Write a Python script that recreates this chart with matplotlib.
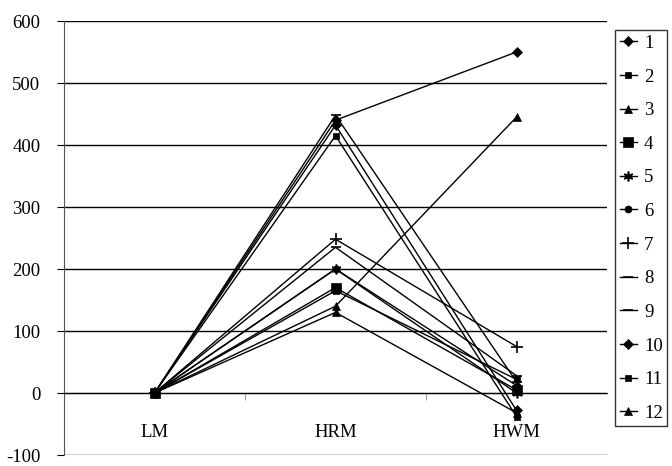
import matplotlib
matplotlib.use('Agg')
import matplotlib.pyplot as plt

categories = ['LM', 'HRM', 'HWM']
series_names = ['1', '2', '3', '4', '5', '6', '7', '8', '9', '10', '11', '12']
values = [
    [0, 432, -28],   # 1
    [0, 165, 22],    # 2
    [0, 140, 445],   # 3
    [0, 170, 5],     # 4
    [0, 200, 0],     # 5
    [0, 200, 12],    # 6
    [0, 248, 75],    # 7
    [0, 235, 28],    # 8
    [0, 448, 18],    # 9
    [0, 440, 550],   # 10
    [0, 415, -38],   # 11
    [0, 130, -32],   # 12
]
yticks = [-100, 0, 100, 200, 300, 400, 500, 600]

markers = ['D', 's', '^', 's', (6, 2, 0), 'o', '+', '_', '_', 'D', 's', '^']
msizes = [5, 4.5, 6, 7, 7, 5, 9, 7, 7, 5, 4.5, 6]

plt.rcParams['font.family'] = ['Liberation Serif', 'DejaVu Serif']

fig = plt.figure(figsize=(6.72, 4.66), dpi=100)
ax = fig.add_axes([64 / 672, 11 / 466, (607 - 64) / 672, (455 - 21) / 466])

x = list(range(len(categories)))
for name, vals, m, ms in zip(series_names, values, markers, msizes):
    ax.plot(x, vals, color='black', lw=1, marker=m, markersize=ms,
            markeredgewidth=1.2 if m in ('+', '_', (6, 2, 0)) else 0.5,
            markerfacecolor='black', markeredgecolor='black', label=name)

ax.set_xlim(-0.5, 2.5)
ax.set_ylim(-100, 600)
ax.set_yticks(yticks)
ax.set_yticklabels([str(v) for v in yticks], fontsize=13.5)
ax.grid(axis='y', color='black', lw=1)
ax.set_axisbelow(True)

ax.spines['top'].set_visible(False)
ax.spines['right'].set_visible(False)
ax.spines['bottom'].set_position(('data', 0))
ax.spines['left'].set_color('#555555')
ax.tick_params(axis='y', length=5, pad=12, color='black')

ax.set_xticks(x)
ax.set_xticklabels(categories, fontsize=13.5)
ax.set_xticks([0.5, 1.5], minor=True)
ax.tick_params(axis='x', which='major', length=0, pad=22)
ax.tick_params(axis='x', which='minor', length=5, color='#888888')

leg = ax.legend(loc='upper left', bbox_to_anchor=(1.0147, 0.979), fontsize=13.5,
                frameon=True, fancybox=False, edgecolor='black',
                handlelength=0.9, handletextpad=0.4, labelspacing=0.88,
                borderpad=0.25, borderaxespad=0)
leg.get_frame().set_linewidth(1)

fig.savefig('out.png', dpi=100)
